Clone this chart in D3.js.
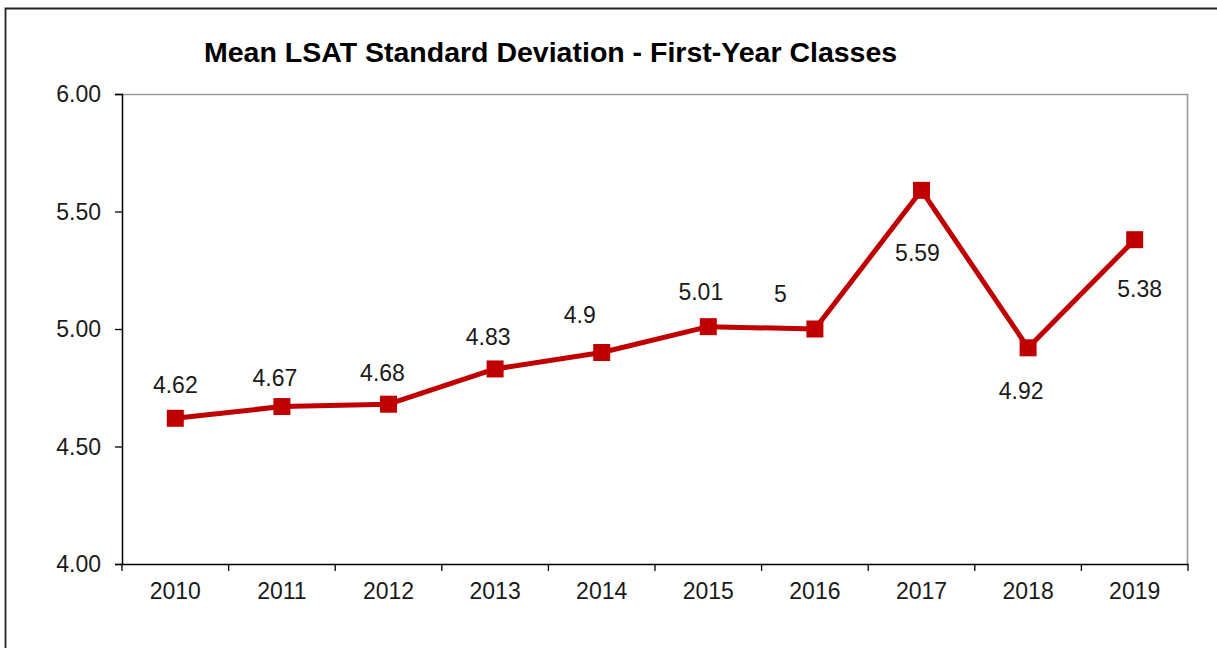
<!DOCTYPE html>
<html>
<head>
<meta charset="utf-8">
<script src="https://cdn.jsdelivr.net/npm/d3@7"></script>
<style>
  html, body { margin: 0; padding: 0; background: #fff; }
  svg { display: block; }
  text { font-family: "Liberation Sans", Arial, sans-serif; }
</style>
</head>
<body>
<svg id="chart" width="1217" height="648"></svg>
<script>
// ---- data ----
const title = "Mean LSAT Standard Deviation - First-Year Classes";
const years = ["2010", "2011", "2012", "2013", "2014", "2015", "2016", "2017", "2018", "2019"];
const values = [4.62, 4.67, 4.68, 4.83, 4.9, 5.01, 5, 5.59, 4.92, 5.38];
const valueLabels = ["4.62", "4.67", "4.68", "4.83", "4.9", "5.01", "5", "5.59", "4.92", "5.38"];
const yTicks = [4.0, 4.5, 5.0, 5.5, 6.0];

// ---- layout / style (label offsets relative to marker, in px) ----
const labelDx = [0, -7, -6, -7, -22, -7.5, -34.5, -4, -7, 5];
const labelDy = [-25, -21, -23.5, -24, -30, -27, -27, 70.5, 51, 57];

const W = 1217, H = 648;
const margin = { left: 122, right: 1217 - 1188, top: 94, bottom: 648 - 564 };
const svg = d3.select("#chart");

// outer frame (left & top visible)
svg.append("path")
  .attr("d", `M5.5,648 V8.5 H1217`)
  .attr("fill", "none").attr("stroke", "#222").attr("stroke-width", 1.8);

const x = d3.scaleBand().domain(years).range([margin.left, W - margin.right]).padding(0);
const y = d3.scaleLinear().domain([4, 6]).range([H - margin.bottom, margin.top]);

// plot frame: top/right gray
svg.append("path")
  .attr("d", `M${margin.left},${margin.top + 0.5} H${W - margin.right - 0.5} V${H - margin.bottom}`)
  .attr("fill", "none").attr("stroke", "#9a9a9a").attr("stroke-width", 1.6);

// y axis
const yAxis = d3.axisLeft(y).tickValues(yTicks).tickFormat(d3.format(".2f")).tickSize(7).tickPadding(14);
const gy = svg.append("g").attr("transform", `translate(${margin.left},0)`).call(yAxis);
gy.select(".domain").attr("stroke", "#000").attr("stroke-width", 1.5);
gy.selectAll(".tick line").attr("stroke", "#000").attr("stroke-width", 1.3);
gy.selectAll(".tick text").attr("font-size", 23).attr("fill", "#1a1a1a").attr("dy", "0.34em");

// x axis with ticks at category boundaries
const xAxis = d3.axisBottom(x).tickSize(0).tickPadding(19);
const gx = svg.append("g").attr("transform", `translate(0,${H - margin.bottom})`).call(xAxis);
gx.select(".domain").attr("stroke", "#000").attr("stroke-width", 1.5);
gx.selectAll(".tick text").attr("font-size", 23).attr("fill", "#1a1a1a");
const boundaries = years.map(d => x(d)).concat([x(years[years.length - 1]) + x.bandwidth()]);
gx.selectAll(".bnd").data(boundaries).join("line")
  .attr("class", "bnd")
  .attr("x1", d => d).attr("x2", d => d)
  .attr("y1", 0).attr("y2", 7)
  .attr("stroke", "#000").attr("stroke-width", 1.3);

// title
svg.append("text")
  .attr("x", 204).attr("y", 62)
  .attr("font-size", 28.5).attr("font-weight", "bold").attr("fill", "#000")
  .text(title);

// line
const pts = years.map((d, i) => [x(d) + x.bandwidth() / 2, y(values[i])]);
svg.append("path")
  .datum(pts)
  .attr("d", d3.line())
  .attr("fill", "none").attr("stroke", "#C00000").attr("stroke-width", 5)
  .attr("stroke-linejoin", "round");

// markers
const ms = 17;
svg.selectAll(".mk").data(pts).join("rect")
  .attr("class", "mk")
  .attr("x", d => d[0] - ms / 2).attr("y", d => d[1] - ms / 2)
  .attr("width", ms).attr("height", ms)
  .attr("fill", "#C00000");

// value labels
svg.selectAll(".vl").data(pts).join("text")
  .attr("class", "vl")
  .attr("x", (d, i) => d[0] + labelDx[i])
  .attr("y", (d, i) => d[1] + labelDy[i])
  .attr("text-anchor", "middle")
  .attr("font-size", 23).attr("fill", "#1a1a1a")
  .text((d, i) => valueLabels[i]);
</script>
</body>
</html>
